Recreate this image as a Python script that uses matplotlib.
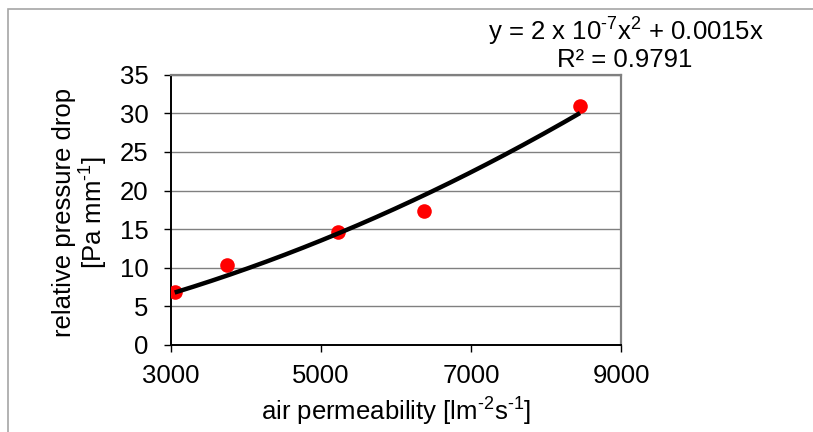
import numpy as np
import matplotlib
matplotlib.use("Agg")
import matplotlib.pyplot as plt
from matplotlib.patches import Rectangle

plt.rcParams['font.family'] = ['Liberation Sans', 'DejaVu Sans']
plt.rcParams['mathtext.fontset'] = 'custom'
plt.rcParams['mathtext.rm'] = 'Liberation Sans'
plt.rcParams['mathtext.it'] = 'Liberation Sans'
plt.rcParams['mathtext.default'] = 'regular'

# data
air_permeability = [3053, 3746, 5229, 6379, 8454]
pressure_drop = [6.9, 10.3, 14.6, 17.3, 30.9]
x_ticks = [3000, 5000, 7000, 9000]
y_ticks = [0, 5, 10, 15, 20, 25, 30, 35]
equation_text = r"y = 2 x 10$^{\text{-}7}$x$^{2}$ + 0.0015x"
r2_text = "R² = 0.9791"
x_label = r"air permeability [lm$^{\text{-}2}$s$^{\text{-}1}$]"
y_label = "relative pressure drop\n" + r"[Pa mm$^{\text{-}1}$]"

W, H = 813, 432
fig = plt.figure(figsize=(W / 100, H / 100), dpi=100)
ax = fig.add_axes([170.7 / W, 1 - 345 / H, (621 - 170.7) / W, (345 - 74.7) / H])

# figure border (light gray), clipped at right/bottom
fig.patches.append(Rectangle((8 / W, -0.2), 1.2, 1 - 9 / H + 0.2, transform=fig.transFigure,
                             fill=False, edgecolor='#a6a6a6', lw=1.2))

x = np.array(air_permeability, dtype=float)
y = np.array(pressure_drop, dtype=float)
# quadratic trend through the origin
A = np.column_stack([x ** 2, x])
coef, *_ = np.linalg.lstsq(A, y, rcond=None)
xf = np.linspace(x.min(), x.max(), 200)
yf = coef[0] * xf ** 2 + coef[1] * xf

ax.plot(x, y, 'o', color='#ff0000', markersize=10.5, markeredgewidth=0, zorder=3)
ax.plot(xf, yf, '-', color='black', lw=3.2, zorder=4, solid_capstyle='butt')

ax.set_xlim(3000, 9000)
ax.set_ylim(0, 35)
ax.set_xticks(x_ticks)
ax.set_yticks(y_ticks)
ax.yaxis.grid(True, color='#808080', lw=1)
ax.set_axisbelow(True)

for s in ['top', 'right']:
    ax.spines[s].set_color('#808080')
    ax.spines[s].set_linewidth(1.6)
for s in ['left', 'bottom']:
    ax.spines[s].set_color('black')
    ax.spines[s].set_linewidth(1.4)

ax.tick_params(axis='both', direction='out', length=5, width=1, color='black', labelsize=18.5)
ax.tick_params(axis='y', pad=11)
ax.tick_params(axis='x', pad=9)

ax.set_xlabel(x_label, fontsize=18.5)
ax.xaxis.label.set_va('center')
ax.xaxis.set_label_coords(0.5, (345 - 412) / (345 - 74.7))

ax.set_ylabel(y_label, fontsize=18.5, linespacing=1.1)
ax.yaxis.label.set_va('center')
ax.yaxis.set_label_coords((81 - 170.7) / (621 - 170.7), 0.49)

fig.text(626 / W, 1 - 31.7 / H, equation_text, ha='center', va='center', fontsize=18.5)
fig.text(624.5 / W, 1 - 60 / H, r2_text, ha='center', va='center', fontsize=18.5)

fig.savefig("out.png", dpi=100)
